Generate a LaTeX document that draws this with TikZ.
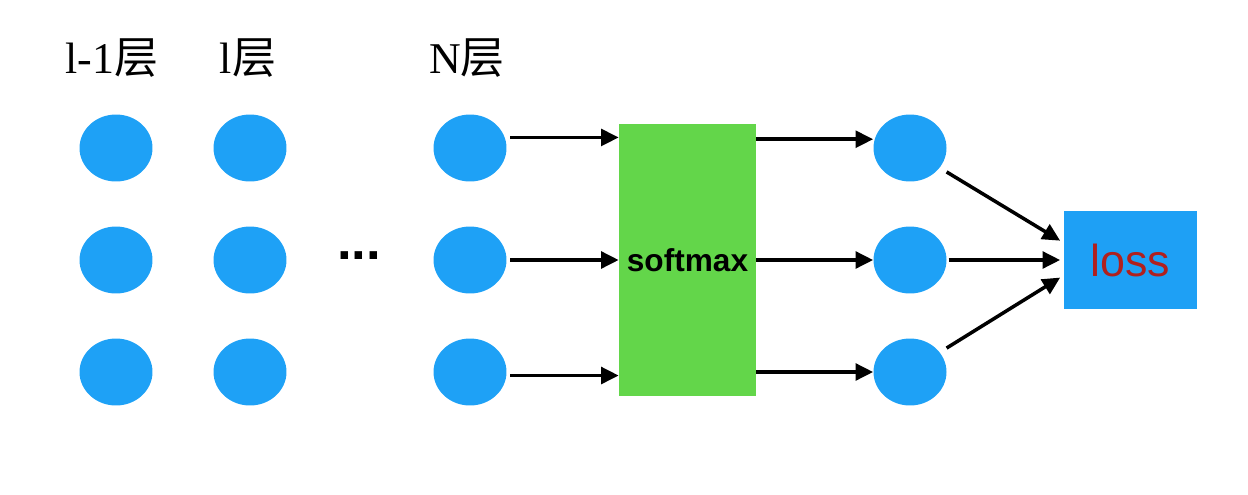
\documentclass[tikz,border=0pt]{standalone}
\usepackage{fontspec}
\setmainfont{Liberation Serif}
\setsansfont{Liberation Sans}
\newfontfamily\cjk{Noto Sans CJK SC}
\usepackage{tikz}
\usetikzlibrary{arrows.meta,calc,positioning,shapes.geometric}
\definecolor{unitCol}{HTML}{1EA1F6}
\definecolor{smCol}{HTML}{63D64A}
\definecolor{lossCol}{HTML}{1EA0F5}
\definecolor{lossTxt}{HTML}{B0201E}
\tikzset{
  unit/.style={ellipse, fill=unitCol, draw=none, inner sep=0pt,
               minimum width=1.46cm, minimum height=1.34cm},
  layer/.style={anchor=base, font=\fontsize{25}{30}\selectfont},
  smbox/.style={rectangle, fill=smCol, inner sep=0pt, minimum width=2.74cm, minimum height=5.44cm,
                font=\sffamily\bfseries\fontsize{18}{22}\selectfont},
  lossbox/.style={rectangle, fill=lossCol, inner sep=0pt, minimum width=2.66cm, minimum height=1.96cm,
                  font=\sffamily\fontsize{25.5}{30}\selectfont, text=lossTxt},
  arr/.style={-{Triangle[length=10pt,width=9.5pt]}, line width=2pt},
}
\begin{document}
\begin{tikzpicture}[x=0.02cm,y=-0.02cm]
  \useasboundingbox (0,0) rectangle (1248,494);
  \def\xA{116}\def\xB{250}\def\xN{470}\def\xO{910}
  % layer titles
  \node[layer] (tA) at (112,73) {l-1{\cjk 层}};
  \node[layer] (tB) at (248,73) {l{\cjk 层}};
  \node[layer] (tN) at (467,73) {N{\cjk 层}};
  % units
  \foreach \r/\y in {1/148,2/260,3/372}{
    \node[unit] (a\r) at (\xA,\y) {};
    \node[unit] (b\r) at (\xB,\y) {};
    \node[unit] (n\r) at (\xN,\y) {};
    \node[unit] (o\r) at (\xO,\y) {};
  }
  \node[anchor=base, font=\sffamily\bfseries\fontsize{30}{30}\selectfont] (dots) at (359,259) {...};
  \node[smbox] (sm) at (687.5,260) {softmax};
  \node[lossbox] (loss) at (1130.5,260) {loss};
  % N layer -> softmax -> outputs
  \foreach \r/\s/\t in {1/6pt/5pt,2/0pt/0pt,3/-2pt/0pt}{
    \draw[arr] ($(n\r.east)+(2pt,\s)$) -- ($(n\r.east -| sm.west)+(0,\s)$);
    \draw[arr] ($(o\r.west -| sm.east)+(0,\t)$) -- ($(o\r.west)+(0,\t)$);
  }
  % outputs -> loss
  \draw[arr] ($(o1.south east)+(6pt,0)$) -- ($(loss.west)+(-2pt,11pt)$);
  \draw[arr, shorten <=1pt] (o2.east) -- ($(loss.west)+(-2pt,0)$);
  \draw[arr] ($(o3.north east)+(6pt,0)$) -- ($(loss.west)+(-2pt,-10pt)$);
\end{tikzpicture}
\end{document}
